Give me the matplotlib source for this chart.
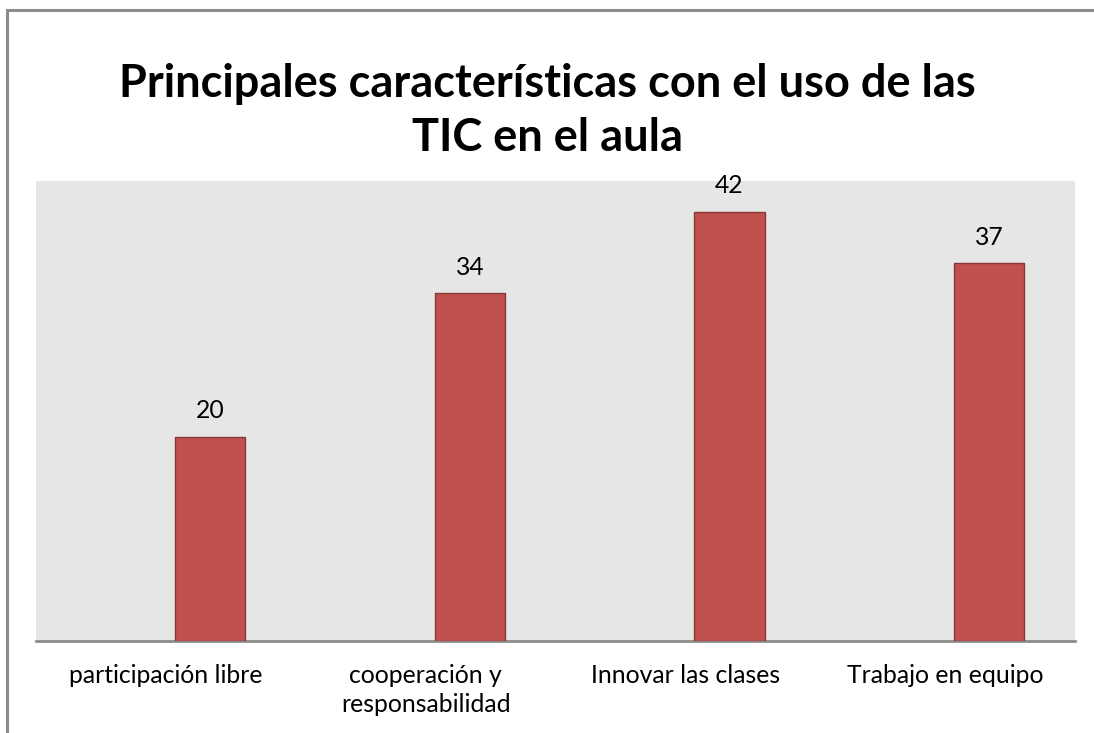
import matplotlib
matplotlib.use("Agg")
import matplotlib.pyplot as plt
from matplotlib.lines import Line2D

plt.rcParams['font.family'] = ['Lato', 'DejaVu Sans']

categories = ["participación libre", "cooperación y\nresponsabilidad", "Innovar las clases", "Trabajo en equipo"]
values = [20, 34, 42, 37]
title = "Principales características con el uso de las\nTIC en el aula"

W, H = 1094, 733
fig = plt.figure(figsize=(W / 100, H / 100), dpi=100)

# outer chart border (top and left visible)
fig.add_artist(Line2D([7 / W, 7 / W], [0, 1 - 10 / H], transform=fig.transFigure, color='#8c8c8c', lw=2.2))
fig.add_artist(Line2D([7 / W, 1], [1 - 10 / H, 1 - 10 / H], transform=fig.transFigure, color='#8c8c8c', lw=2.2))

left, right, top, bottom = 36, 1075, 181, 641
ax = fig.add_axes([left / W, 1 - bottom / H, (right - left) / W, (bottom - top) / H])
ax.set_facecolor('#e6e6e6')
x = list(range(len(categories)))
offset = 0.17  # bar drawn in the second slot of a two-series group
bx = [xi + offset for xi in x]
ax.bar(bx, values, width=0.27, color='#c0504d', edgecolor='#8c3836', linewidth=1.0, zorder=3)
ax.set_xlim(-0.5, len(categories) - 0.5)
ax.set_ylim(0, 45)
ax.set_yticks([])
ax.set_xticks(x)
ax.set_xticklabels(categories, fontsize=17.8, color='#000000', linespacing=1.32)
ax.tick_params(axis='x', length=0, pad=16.5)
for s in ['top', 'right', 'left']:
    ax.spines[s].set_visible(False)
ax.spines['bottom'].set_color('#8c8c8c')
ax.spines['bottom'].set_linewidth(2)
for xi, v in zip(bx, values):
    ax.annotate(str(v), (xi, v), xytext=(0, 18.5), textcoords='offset points',
                ha='center', va='center', fontsize=17.8, color='#000000')

fig.text(0.5, 1 - 111 / H, title, ha='center', va='center', fontsize=32.5,
         fontweight='bold', linespacing=1.38)

fig.savefig('out.png', dpi=100)
